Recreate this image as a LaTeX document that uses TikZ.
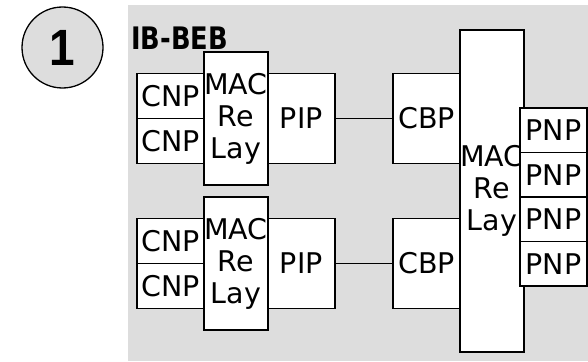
\documentclass[tikz,border=0pt]{standalone}
\usepackage{fontspec}
\setmainfont{DejaVu Sans}
\newfontfamily\digitfont{Liberation Sans}
\usetikzlibrary{positioning}
\definecolor{panel}{HTML}{DDDDDD}

\begin{document}
\begin{tikzpicture}[
    x=1pt, y=-1pt,
    node distance=0pt,
    box/.style={draw, line width=1.8pt, fill=white, outer sep=0pt, inner sep=0pt,
      align=center, font=\fontsize{28.5}{32}\selectfont},
    port/.style={box, minimum width=67pt, minimum height=45pt},
    pnp/.style={box, minimum width=67pt, minimum height=44.5pt},
    bridge/.style={box, minimum width=67pt, minimum height=90pt},
    relay/.style={box, minimum width=56pt, minimum height=133pt},
    link/.style={line width=1.8pt}
  ]
    \useasboundingbox (0,0) rectangle (588,361);
    \fill[panel] (128,5) rectangle (588,361);

    % step number and title
    \node[circle, draw, line width=1.3pt, fill=panel, minimum size=81pt, inner sep=0pt,
      font=\digitfont\bfseries\fontsize{51}{51}\selectfont] (step1) at (62.5,47.5) {\scalebox{0.9}[1]{1}};
    \node[anchor=base west, inner sep=0pt, font=\bfseries\fontsize{31}{31}\selectfont]
      (title) at (131,49.5) {\scalebox{0.83}[1]{IB-BEB}};

    % upper I-component
    \node[relay] (macA) at (236,118.5) {MAC\\Re\\Lay};
    \node[port, above left=of macA.west] (cnpA) {CNP};
    \node[port, below left=of macA.west] (cnpB) {CNP};
    \node[bridge, right=of macA] (pipA) {PIP};

    % lower I-component
    \node[relay] (macB) at (236,263.5) {MAC\\Re\\Lay};
    \node[port, above left=of macB.west] (cnpC) {CNP};
    \node[port, below left=of macB.west] (cnpD) {CNP};
    \node[bridge, right=of macB] (pipB) {PIP};

    % B-component
    \node[relay, minimum height=322pt] (macC) at (492,191) {MAC\\Re\\Lay};
    \node[bridge, left=of macC.west |- pipA] (cbpA) {CBP};
    \node[bridge, left=of macC.west |- pipB] (cbpB) {CBP};
    \node[pnp, anchor=north west] (pnpA) at (520,108) {PNP};
    \node[pnp, below=of pnpA] (pnpB) {PNP};
    \node[pnp, below=of pnpB] (pnpC) {PNP};
    \node[pnp, below=of pnpC] (pnpD) {PNP};

    \draw[link] (pipA.east) -- (cbpA.west);
    \draw[link] (pipB.east) -- (cbpB.west);
  \end{tikzpicture}
\end{document}
